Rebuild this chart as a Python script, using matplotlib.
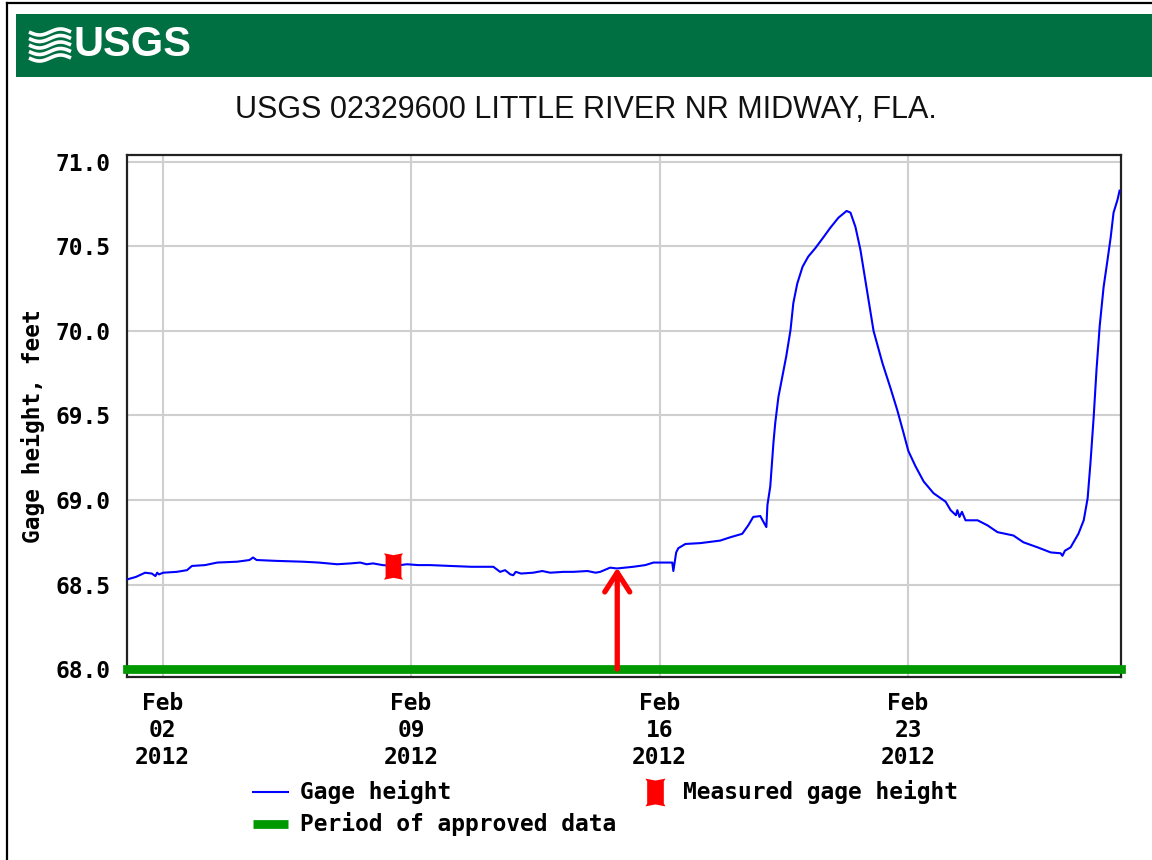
import matplotlib
matplotlib.use("Agg")
import matplotlib.pyplot as plt
from matplotlib.path import Path
from matplotlib.lines import Line2D
from matplotlib.patches import Rectangle
import numpy as np
import pandas as pd

# ---------------- data ----------------
start = pd.Timestamp("2012-02-01 00:00")
days = [0.00, 0.25, 0.51, 0.70, 0.80, 0.85, 0.90, 1.02, 1.40, 1.69, 1.83, 2.20,
        2.54, 3.10, 3.45, 3.55, 3.65, 4.20, 4.96, 5.40, 5.92, 6.30, 6.57, 6.75,
        6.93, 7.20, 7.50, 7.89, 8.20, 8.54, 9.10, 9.70, 10.32, 10.51, 10.65, 10.80,
        10.88, 10.95, 11.10, 11.44, 11.70, 11.92, 12.30, 12.57, 12.97, 13.20, 13.33,
        13.61, 13.80, 14.26, 14.60, 14.83, 15.36, 15.39, 15.47, 15.53, 15.73, 16.15,
        16.71, 17.00, 17.33, 17.50, 17.64, 17.84, 17.93, 18.01, 18.04, 18.12, 18.21,
        18.26, 18.35, 18.46, 18.57, 18.69, 18.77, 18.88, 19.03, 19.19, 19.39, 19.62,
        19.81, 20.04, 20.27, 20.38, 20.52, 20.66, 20.86, 21.03, 21.28, 21.51, 21.70,
        21.87, 22.01, 22.21, 22.44, 22.72, 23.06, 23.20, 23.35, 23.39, 23.45, 23.52,
        23.62, 23.96, 24.24, 24.52, 24.97, 25.25, 25.65, 26.02, 26.30, 26.35, 26.42,
        26.58, 26.80, 26.95, 27.06, 27.14, 27.23, 27.31, 27.40, 27.51, 27.62, 27.71,
        27.79, 27.90, 27.96]
gage = [68.53, 68.545, 68.57, 68.565, 68.55, 68.57, 68.56, 68.57, 68.575, 68.585, 68.61, 68.615,
        68.63, 68.635, 68.645, 68.66, 68.645, 68.64, 68.635, 68.63, 68.62, 68.625, 68.63, 68.62,
        68.625, 68.615, 68.61, 68.62, 68.615, 68.615, 68.61, 68.605, 68.605, 68.575, 68.585, 68.56,
        68.555, 68.575, 68.565, 68.57, 68.58, 68.57, 68.575, 68.575, 68.58, 68.57, 68.575,
        68.60, 68.595, 68.605, 68.615, 68.63, 68.63, 68.58, 68.69, 68.715, 68.74, 68.745,
        68.76, 68.78, 68.80, 68.85, 68.90, 68.905, 68.87, 68.84, 68.97, 69.08, 69.34,
        69.455, 69.61, 69.73, 69.85, 70.005, 70.165, 70.28, 70.38, 70.44, 70.49, 70.555,
        70.61, 70.67, 70.71, 70.70, 70.615, 70.48, 70.22, 70.00, 69.81, 69.66, 69.53,
        69.40, 69.29, 69.20, 69.11, 69.04, 68.99, 68.94, 68.91, 68.94, 68.90, 68.93,
        68.88, 68.88, 68.85, 68.81, 68.79, 68.75, 68.72, 68.69, 68.685, 68.67, 68.70,
        68.72, 68.80, 68.88, 69.01, 69.22, 69.49, 69.77, 70.03, 70.26, 70.42, 70.555,
        70.70, 70.775, 70.83]
measured_days = [7.50]
measured_gage = [68.61]
approved_start = "2012-02-01 00:00"
approved_end = "2012-02-29 00:00"
approved_level = 68.0
arrow_day = 13.81
arrow_gage = 68.60
y_ticks = [68.0, 68.5, 69.0, 69.5, 70.0, 70.5, 71.0]
x_ticks = ["2012-02-02", "2012-02-09", "2012-02-16", "2012-02-23"]
x_range = ["2012-02-01 00:00", "2012-02-29 00:00"]
y_range = [67.953, 71.041]
title = "USGS 02329600 LITTLE RIVER NR MIDWAY, FLA."
ylabel = "Gage height, feet"
legend_labels = ["Gage height", "Measured gage height", "Period of approved data"]

# ---------------- figure ----------------
W, H = 1152, 860
fig = plt.figure(figsize=(W / 100, H / 100), dpi=100)
fig.patch.set_facecolor("white")

def fx(px):
    return px / W

def fy(py):
    return 1 - py / H

mono = ["DejaVu Sans Mono"]
sans = ["Liberation Sans", "DejaVu Sans"]
fs = 16.5

# outer border
fig.add_artist(Line2D([fx(7), fx(7)], [fy(3), 0], color="black", lw=1.6))
fig.add_artist(Line2D([fx(7), 1], [fy(3), fy(3)], color="black", lw=1.6))

# banner
fig.add_artist(Rectangle((fx(16), fy(77)), 1 - fx(16), fy(14) - fy(77),
                         facecolor="#006f41", edgecolor="none"))
# logo waves
for k in range(5):
    xs = np.linspace(fx(29), fx(71), 40)
    base = 32 + k * 6.5
    ys = [fy(base + 3.0 * np.sin((x - fx(29)) / (fx(71) - fx(29)) * 2 * np.pi)) for x in xs]
    fig.add_artist(Line2D(xs, ys, color="white", lw=2.6, solid_capstyle="butt"))
fig.text(fx(74), fy(45), "USGS", color="white", fontsize=30, fontweight="bold",
         family=sans, ha="left", va="center")

# title
fig.text(fx(586), fy(110), title, fontsize=22, family=sans,
         ha="center", va="center", color="#111111")

# axes
ax = fig.add_axes([fx(127), fy(677), fx(1121) - fx(127), fy(155) - fy(677)])
dates = [start + pd.Timedelta(days=d) for d in days]
mdates_list = [start + pd.Timedelta(days=d) for d in measured_days]

ax.set_xlim(pd.Timestamp(x_range[0]), pd.Timestamp(x_range[1]))
ax.set_ylim(*y_range)
ax.set_yticks(y_ticks)
ax.set_yticklabels([f"{v:.1f}" for v in y_ticks], family=mono, fontweight="bold", fontsize=fs)
ax.set_xticks([pd.Timestamp(t) for t in x_ticks])
ax.set_xticklabels([pd.Timestamp(t).strftime("%b\n%d\n%Y") for t in x_ticks],
                   family=mono, fontweight="bold", fontsize=fs, linespacing=1.22)
ax.tick_params(axis="both", length=0)
ax.tick_params(axis="y", pad=12)
ax.tick_params(axis="x", pad=11)
ax.grid(True, color="#cfcfcf", lw=1.5)
ax.set_axisbelow(True)
for s in ax.spines.values():
    s.set_color("#222222")
    s.set_linewidth(1.6)

# approved data bar
ax.plot([pd.Timestamp(approved_start), pd.Timestamp(approved_end)],
        [approved_level, approved_level], color="#009900", lw=6.3,
        solid_capstyle="projecting", clip_on=False, zorder=3)

# gage height line
ax.plot(dates, gage, color="#0000ff", lw=1.5, zorder=4)

# measured marker
mverts = [(-0.36, 0.5), (0, 0.43), (0.36, 0.5), (0.3, 0.4), (0.3, -0.4), (0.36, -0.5),
          (0, -0.43), (-0.36, -0.5), (-0.3, -0.4), (-0.3, 0.4), (-0.36, 0.5)]
mpath = Path(mverts, [Path.MOVETO] + [Path.LINETO] * 9 + [Path.CLOSEPOLY])
ax.plot(mdates_list, measured_gage, linestyle="none", marker=mpath, markersize=19,
        color="red", markeredgewidth=0, zorder=5)

# arrow
arrow_x = start + pd.Timedelta(days=arrow_day)
ax.annotate("", xy=(arrow_x, arrow_gage), xytext=(arrow_x, approved_level),
            arrowprops=dict(arrowstyle="->,head_length=0.7,head_width=0.45",
                            color="red", lw=3.8, shrinkA=0, shrinkB=0,
                            mutation_scale=20), zorder=6)

# y label
fig.text(fx(33), fy(426), ylabel, rotation=90, family=mono, fontweight="bold",
         fontsize=fs, ha="center", va="center")

# legend (manual)
fig.add_artist(Line2D([fx(253), fx(288)], [fy(792), fy(792)], color="#0000ff", lw=1.5))
fig.text(fx(300), fy(792), legend_labels[0], family=mono, fontweight="bold",
         fontsize=fs, ha="left", va="center")
fig.add_artist(Line2D([fx(655)], [fy(792)], marker=mpath, markersize=20, color="red",
                      markeredgewidth=0, linestyle="none"))
fig.text(fx(683), fy(792), legend_labels[1], family=mono, fontweight="bold",
         fontsize=fs, ha="left", va="center")
fig.add_artist(Line2D([fx(253), fx(288)], [fy(824), fy(824)], color="#009900", lw=6.3,
                      solid_capstyle="butt"))
fig.text(fx(300), fy(824), legend_labels[2], family=mono, fontweight="bold",
         fontsize=fs, ha="left", va="center")

fig.savefig("out.png", dpi=100)
